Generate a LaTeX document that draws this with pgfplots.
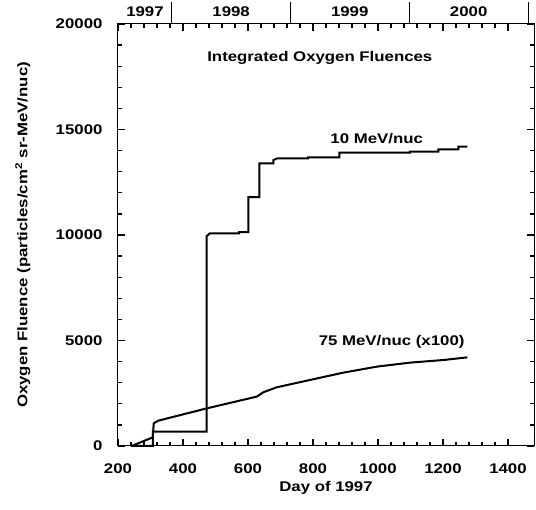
\documentclass[border=0pt]{standalone}
\usepackage{fontspec}
\setmainfont{Liberation Sans}[FakeStretch=1.2]
\usepackage{pgfplots}
\pgfplotsset{compat=1.18}
\begin{document}
\begin{tikzpicture}[font=\fontsize{14}{16}\selectfont\bfseries]
\begin{axis}[
  at={(0,0)}, anchor=south west,
  scale only axis, width=416pt, height=422pt,
  xmin=200, xmax=1480, ymin=0, ymax=20000,
  xtick={200,400,...,1400}, ytick={0,5000,...,20000},
  minor x tick num=4, minor y tick num=4,
  tick align=inside,
  major tick length=7pt, minor tick length=4pt,
  tick style={black, line width=1.3pt},
  axis line style={line width=1pt},
  scaled y ticks=false,
  xticklabel style={yshift=-14pt},
  yticklabel style={xshift=-12pt},
  xlabel={Day of 1997},
  ylabel={Oxygen Fluence (particles/cm\textsuperscript{2} sr-MeV/nuc)},
  xlabel style={at={(axis description cs:0.5,-0.1)}, anchor=center},
  ylabel style={at={(axis description cs:-0.229,0.5)}, anchor=center},
  clip=false,
  /pgf/number format/set thousands separator={},
  /pgf/number format/assume math mode=true,
]
\addplot[black, line width=2pt] coordinates {
(240,0) (307,0) (307,680) (473,680) (473,9950) (483,10080) (573,10080) (573,10140)
(601,10140) (601,11790) (635,11790) (635,13400) (678,13400) (678,13550) (690,13630)
(785,13630) (785,13680) (881,13680) (881,13900) (1098,13900) (1098,13950)
(1186,13950) (1186,14060) (1247,14060) (1247,14190) (1275,14190)
};
\addplot[black, line width=2pt] coordinates {
(242,0) (307,410) (310,1075) (324,1200) (475,1790) (627,2340) (647,2545) (688,2780)
(791,3130) (893,3475) (996,3760) (1098,3950) (1201,4075) (1275,4200)
};
\node at (axis cs:821,18390) {Integrated Oxygen Fluences};
\node at (axis cs:996,14580) {10 MeV/nuc};
\node at (axis cs:1042,4940) {75 MeV/nuc (x100)};
\draw[line width=0.9pt] (axis cs:366,20000) -- ++(0pt,22pt);
\draw[line width=0.9pt] (axis cs:731,20000) -- ++(0pt,22pt);
\draw[line width=0.9pt] (axis cs:1096,20000) -- ++(0pt,22pt);
\draw[line width=0.9pt] (axis cs:1462,20000) -- ++(0pt,22pt);
\node[anchor=base, yshift=7pt] at (axis cs:283,20000) {1997};
\node[anchor=base, yshift=7pt] at (axis cs:548,20000) {1998};
\node[anchor=base, yshift=7pt] at (axis cs:913,20000) {1999};
\node[anchor=base, yshift=7pt] at (axis cs:1279,20000) {2000};
\end{axis}
\useasboundingbox (-118pt,-64pt) rectangle (418pt,446pt);
\end{tikzpicture}
\end{document}
